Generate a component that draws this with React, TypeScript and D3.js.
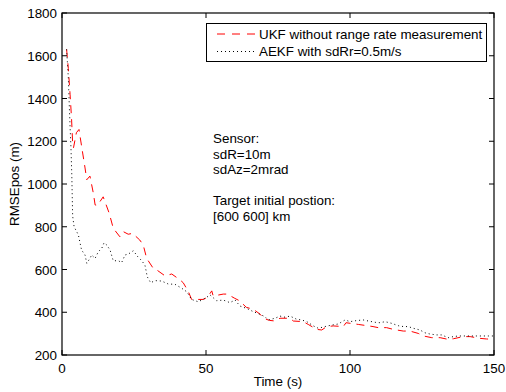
import React from "react";
import * as d3 from "d3";

const xTicks = [0, 50, 100, 150];
const yTicks = [200, 400, 600, 800, 1000, 1200, 1400, 1600, 1800];

const ukfTime = [1.6, 2.2, 2.8, 3.3, 3.7, 4.0, 5.0, 5.9, 7, 8, 8.6, 9.7, 10.9, 11.5, 12.3, 14.3, 16.4, 17.8, 20.1, 21.3, 23, 24.5, 27, 28.2, 29.4, 31.7, 32.9, 35.8, 38.1, 41, 42.1, 43.9, 45, 47.3, 49, 50.5, 52, 52.5, 56, 57.4, 60, 61.6, 64, 66.4, 68.8, 69.9, 72, 74, 75.7, 79.2, 80.3, 83.8, 85.5, 88.4, 90.2, 91.9, 94.2, 97.7, 98.6, 102.9, 108, 109.8, 112.7, 115, 118.5, 120.8, 123.7, 125.5, 128.4, 131.3, 134.1, 135.9, 139.3, 141.7, 145.1, 147.4, 150];
const ukfValue = [1630, 1540, 1420, 1310, 1190, 1170, 1240, 1255, 1160, 1075, 1020, 1037, 956, 902, 900, 940, 863, 793, 753, 777, 765, 769, 738, 715, 652, 605, 598, 570, 579, 551, 538, 496, 460, 460, 460, 470, 500, 476, 485, 485, 465, 454, 423, 414, 391, 372, 362, 359, 372, 372, 359, 356, 343, 320, 317, 333, 336, 333, 351, 343, 333, 328, 328, 320, 312, 312, 301, 289, 281, 281, 273, 276, 286, 286, 278, 275, 273];

const aekfTime = [1.6, 2.2, 2.5, 2.8, 3.1, 3.4, 3.7, 4.2, 5.1, 5.7, 6.3, 6.8, 8, 8.6, 9.7, 10.3, 11.5, 12.6, 13.8, 14.6, 15.5, 16.7, 17.3, 17.8, 19.6, 20.7, 21.9, 23, 24.8, 26.1, 27.7, 28.8, 29.2, 29.6, 30.8, 32.3, 34.6, 36.9, 39.2, 41.6, 43.3, 45, 47.3, 49.7, 51.4, 53.7, 56, 58.3, 60.1, 61.8, 64.1, 66.4, 68.8, 70.5, 71.6, 74, 75.7, 77.4, 79.2, 81.5, 83.2, 85, 87.3, 89, 91.3, 93.6, 95.9, 98.3, 100, 102.3, 104.6, 106.4, 108.7, 110.4, 112.2, 114.5, 116.8, 118.5, 120.2, 122, 124.3, 126, 127.8, 130.1, 131.8, 134.1, 135.9, 137.6, 139.9, 141.7, 144, 146.3, 148, 150];
const aekfValue = [1630, 1496, 1379, 1268, 1175, 1042, 850, 800, 777, 761, 722, 691, 668, 629, 652, 668, 652, 683, 699, 725, 715, 691, 663, 641, 641, 632, 668, 672, 688, 663, 641, 620, 594, 566, 538, 548, 546, 532, 531, 512, 496, 460, 449, 465, 481, 454, 457, 445, 457, 429, 418, 403, 390, 379, 364, 372, 382, 377, 382, 367, 364, 356, 336, 325, 333, 340, 345, 364, 356, 361, 364, 359, 353, 351, 356, 348, 337, 333, 333, 325, 317, 304, 298, 294, 294, 281, 286, 289, 289, 289, 289, 289, 289, 289, 290];

const seriesNames = ["UKF without range rate measurement", "AEKF with sdRr=0.5m/s"];
const noteLines = ["Sensor:", "sdR=10m", "sdAz=2mrad", "", "Target initial postion:", "[600 600] km"];

const W = 506;
const H = 392;
const M = { left: 62, right: 494, top: 13, bottom: 355 };
const FONT = "'Liberation Sans', Arial, Helvetica, sans-serif";

export default function App() {
  const x = d3.scaleLinear().domain([0, 150]).range([M.left, M.right]);
  const y = d3.scaleLinear().domain([200, 1800]).range([M.bottom, M.top]);
  const line = d3
    .line<[number, number]>()
    .x((d) => x(d[0]))
    .y((d) => y(d[1]));
  const ukf = ukfTime.map((t, i) => [t, ukfValue[i]] as [number, number]);
  const aekf = aekfTime.map((t, i) => [t, aekfValue[i]] as [number, number]);
  const tl = 5;
  const fs = 13.4;

  return (
    <svg
      width={W}
      height={H}
      style={{ position: "absolute", left: 0, top: 0, background: "#fff" }}
      fontFamily={FONT}
    >
      <rect x={0} y={0} width={W} height={H} fill="#fff" />
      <defs>
        <clipPath id="plotclip">
          <rect x={M.left} y={M.top} width={M.right - M.left} height={M.bottom - M.top} />
        </clipPath>
      </defs>
      <g clipPath="url(#plotclip)">
        <path d={line(ukf) || ""} fill="none" stroke="#ff0000" strokeWidth={1} strokeDasharray="8,6" />
        <path d={line(aekf) || ""} fill="none" stroke="#000" strokeWidth={1} strokeDasharray="1,3" />
      </g>
      {/* box */}
      <rect
        x={M.left}
        y={M.top}
        width={M.right - M.left}
        height={M.bottom - M.top}
        fill="none"
        stroke="#000"
        strokeWidth={1.2}
      />
      {/* x ticks */}
      {xTicks.map((t) => (
        <g key={"x" + t}>
          <line x1={x(t)} x2={x(t)} y1={M.bottom} y2={M.bottom - tl} stroke="#000" />
          <line x1={x(t)} x2={x(t)} y1={M.top} y2={M.top + tl} stroke="#000" />
          <text x={x(t)} y={M.bottom + 18} fontSize={fs} textAnchor="middle" fill="#000">
            {t}
          </text>
        </g>
      ))}
      {yTicks.map((t) => (
        <g key={"y" + t}>
          <line x1={M.left} x2={M.left + tl} y1={y(t)} y2={y(t)} stroke="#000" />
          <line x1={M.right} x2={M.right - tl} y1={y(t)} y2={y(t)} stroke="#000" />
          <text x={M.left - 5} y={y(t) + 5} fontSize={fs} textAnchor="end" fill="#000">
            {t}
          </text>
        </g>
      ))}
      <text x={(M.left + M.right) / 2} y={386} fontSize={fs} textAnchor="middle" fill="#000">
        Time (s)
      </text>
      <text
        transform={`translate(19,${(M.top + M.bottom) / 2}) rotate(-90)`}
        fontSize={fs}
        textAnchor="middle"
        fill="#000"
      >
        RMSEpos (m)
      </text>
      {/* legend */}
      <rect x={206.5} y={23.5} width={280} height={38} fill="#fff" stroke="#000" strokeWidth={1} />
      <line x1={217} x2={255} y1={34} y2={34} stroke="#ff0000" strokeDasharray="8,7" />
      <line x1={217} x2={255} y1={51.5} y2={51.5} stroke="#000" strokeDasharray="1,3" />
      <text x={259} y={38.8} fontSize={fs} fill="#000">
        {seriesNames[0]}
      </text>
      <text x={259} y={56.3} fontSize={fs} fill="#000">
        {seriesNames[1]}
      </text>
      {/* annotation */}
      {noteLines.map((s, i) => (
        <text key={"n" + i} x={213} y={143 + i * 15.5} fontSize={fs} fill="#000">
          {s}
        </text>
      ))}
    </svg>
  );
}
